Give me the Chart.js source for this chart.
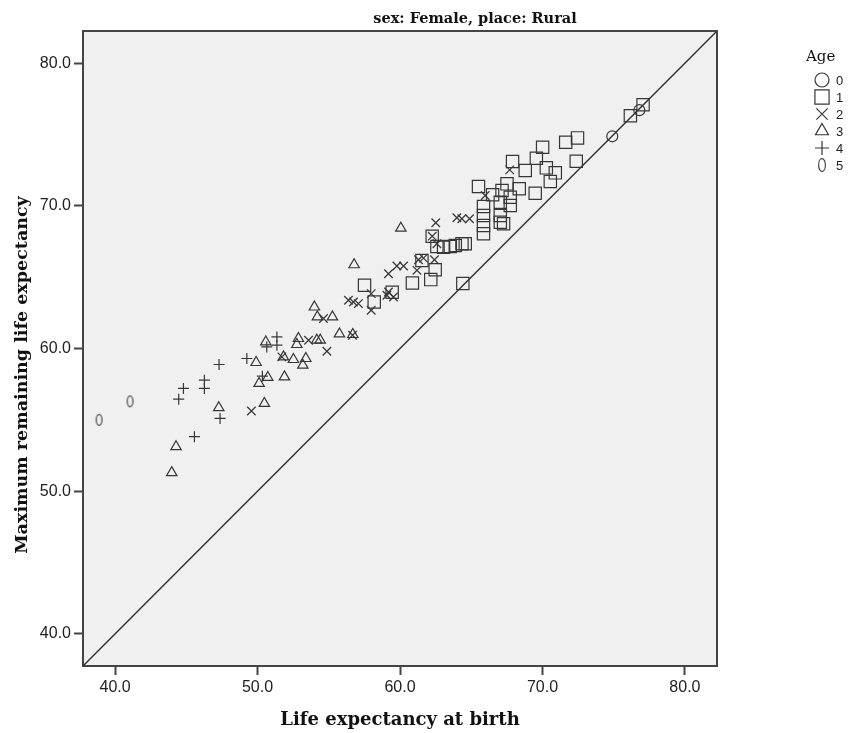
<!DOCTYPE html>
<html>
<head>
<meta charset="utf-8">
<title>sex: Female, place: Rural</title>
<script src="https://cdn.jsdelivr.net/npm/chart.js@4.4.1/dist/chart.umd.min.js"></script>
<style>
  html, body { margin: 0; padding: 0; background: #ffffff; }
  #wrap { width: 851px; height: 733px; }
</style>
</head>
<body>
<div id="wrap"><canvas id="chart" width="851" height="733"></canvas></div>
<script>
// Chart values
const chartTitle = "sex: Female, place: Rural";
const xTitle = "Life expectancy at birth";
const yTitle = "Maximum remaining life expectancy";
const legendTitle = "Age";
const ageLabels = ["0", "1", "2", "3", "4", "5"];
const tickValues = [40, 50, 60, 70, 80];
const axisMin = 37.75;
const axisMax = 82.25;
const refLine = [37.75, 82.25];

// Age 0
const age0Birth = [74.9, 76.8];
const age0Remaining = [74.87, 76.7];

// Age 1
const age1Birth = [77.06, 76.17, 72.46, 71.63, 72.37, 70.01, 69.57, 70.27, 70.9, 70.55,
  67.9, 68.79, 69.49, 68.37, 67.51, 67.16, 67.74, 67.74, 67.04, 66.5,
  65.51, 65.86, 65.86, 65.86, 65.86, 67.04, 67.04, 67.27, 64.58, 64.35,
  64.41, 63.53, 63.06, 62.59, 62.26, 61.54, 62.47, 62.16, 60.87, 59.45,
  58.19, 57.51, 63.88];
const age1Remaining = [77.08, 76.31, 74.76, 74.45, 73.12, 74.1, 73.33, 72.66, 72.31, 71.7,
  73.1, 72.47, 70.88, 71.19, 71.54, 71.07, 70.6, 70.02, 70.25, 70.77,
  71.35, 69.95, 69.32, 68.62, 68.04, 69.32, 68.85, 68.74, 67.34, 67.34,
  64.55, 67.15, 67.1, 67.15, 67.87, 66.17, 65.52, 64.83, 64.59, 63.94,
  63.26, 64.43, 67.22];

// Age 2
const age2Birth = [67.7, 65.98, 62.51, 63.99, 64.34, 64.88, 62.59, 62.26, 61.19, 61.3,
  61.65, 62.42, 60.25, 59.78, 59.19, 57.98, 57.98, 59.08, 59.19, 59.54,
  56.38, 56.73, 57.08, 56.67, 54.63, 54.87, 53.58, 51.71, 49.57];
const age2Remaining = [72.52, 70.72, 68.81, 69.16, 69.09, 69.09, 67.34, 67.87, 65.48, 66.22,
  66.33, 66.22, 65.78, 65.78, 65.24, 63.85, 62.68, 63.73, 63.96, 63.61,
  63.38, 63.26, 63.15, 60.93, 62.1, 59.81, 60.58, 59.41, 55.62];

// Age 3
const age3Birth = [60.06, 56.78, 53.99, 54.2, 55.26, 55.75, 56.69, 52.87, 52.76, 54.16,
  54.4, 50.58, 51.82, 52.52, 53.39, 53.18, 49.9, 50.72, 51.89, 50.11,
  50.48, 47.28, 44.28, 43.98];
const age3Remaining = [68.43, 65.87, 62.91, 62.21, 62.21, 61.02, 60.98, 60.7, 60.28, 60.58,
  60.58, 60.46, 59.41, 59.23, 59.3, 58.83, 59.02, 57.97, 58.01, 57.55,
  56.15, 55.85, 53.12, 51.3];

// Age 4
const age4Birth = [51.36, 51.36, 50.65, 49.25, 47.3, 50.34, 46.27, 46.27, 44.8, 44.47, 47.37, 45.57];
const age4Remaining = [60.81, 60.23, 60.11, 59.3, 58.88, 58.06, 57.78, 57.2, 57.2, 56.45, 55.1, 53.82];

// Age 5
const age5Birth = [38.88, 41.05];
const age5Remaining = [55.0, 56.3];

const MARK_COLOR = "#363636";
const AXIS_COLOR = "#444444";
const PLOT_BG = "#f0f0f0";
const SERIF = "'DejaVu Serif', serif";
const SANS = "'Liberation Sans', Arial, sans-serif";

/**
 * Oval "0" shaped marker used by SPSS for the sixth category
 */
function ovalMarker(w, h, lw) {
  const c = document.createElement("canvas");
  c.width = w + 2;
  c.height = h + 2;
  const g = c.getContext("2d");
  g.strokeStyle = "#444444";
  g.lineWidth = lw;
  g.beginPath();
  g.ellipse(c.width / 2, c.height / 2, w / 2 - lw / 2, h / 2 - lw / 2, 0, 0, Math.PI * 2);
  g.stroke();
  return c;
}

const plotOval = ovalMarker(7, 12, 1.2);
const legendOval = ovalMarker(8, 14, 1.2);

function zip(xs, ys) {
  return xs.map((x, i) => ({ x: x, y: ys[i] }));
}

// style, plot radius, legend radius per age
const markerStyles = [
  { style: "circle", radius: 5.5, legendRadius: 7 },
  { style: "rect", radius: 8.7, legendRadius: 10 },
  { style: "crossRot", radius: 6, legendRadius: 8 },
  { style: "triangle", radius: 6, legendRadius: 7.5 },
  { style: "cross", radius: 5.5, legendRadius: 7 },
  { style: plotOval, radius: 6, legendRadius: 7, legendStyle: legendOval },
];

const ageSeries = [
  zip(age0Birth, age0Remaining),
  zip(age1Birth, age1Remaining),
  zip(age2Birth, age2Remaining),
  zip(age3Birth, age3Remaining),
  zip(age4Birth, age4Remaining),
  zip(age5Birth, age5Remaining),
];

const datasets = ageSeries.map((points, i) => ({
  type: "scatter",
  label: ageLabels[i],
  data: points,
  pointStyle: markerStyles[i].style,
  pointRadius: markerStyles[i].radius,
  pointBorderColor: MARK_COLOR,
  pointBackgroundColor: "rgba(0,0,0,0)",
  pointBorderWidth: 1.2,
  order: 1,
}));

datasets.push({
  type: "line",
  label: "reference",
  data: refLine.map((v) => ({ x: v, y: v })),
  borderColor: "#2e2e2e",
  borderWidth: 1.4,
  pointRadius: 0,
  fill: false,
  order: 2,
});

// Background + frame + texts + legend
const decorPlugin = {
  id: "decor",
  beforeDraw(chart) {
    const { ctx, chartArea: a } = chart;
    ctx.save();
    ctx.fillStyle = "#ffffff";
    ctx.fillRect(0, 0, chart.width, chart.height);
    ctx.fillStyle = PLOT_BG;
    ctx.fillRect(a.left, a.top, a.right - a.left, a.bottom - a.top);
    ctx.restore();
  },
  afterDraw(chart) {
    const { ctx, chartArea: a } = chart;
    ctx.save();

    // top and right frame lines
    ctx.strokeStyle = AXIS_COLOR;
    ctx.lineWidth = 2;
    ctx.beginPath();
    ctx.moveTo(a.left, a.top);
    ctx.lineTo(a.right, a.top);
    ctx.lineTo(a.right, a.bottom);
    ctx.stroke();

    // titles
    ctx.fillStyle = "#111111";
    ctx.textAlign = "center";
    ctx.textBaseline = "alphabetic";
    ctx.font = "bold 14.5px " + SERIF;
    ctx.fillText(chartTitle, 475, 23);

    ctx.font = "bold 18px " + SERIF;
    ctx.fillText(xTitle, (a.left + a.right) / 2, 725);

    ctx.font = "bold 17.5px " + SERIF;
    ctx.save();
    ctx.translate(27, 375);
    ctx.rotate(-Math.PI / 2);
    ctx.fillText(yTitle, 0, 0);
    ctx.restore();

    // legend
    ctx.textAlign = "left";
    ctx.font = "15px " + SERIF;
    ctx.fillText(legendTitle, 806, 61);

    ctx.font = "13px " + SANS;
    ctx.textBaseline = "middle";
    ageLabels.forEach((label, i) => {
      const y = 80 + i * 17;
      const m = markerStyles[i];
      ctx.strokeStyle = MARK_COLOR;
      ctx.fillStyle = "rgba(0,0,0,0)";
      ctx.lineWidth = 1.2;
      Chart.helpers.drawPoint(
        ctx,
        { pointStyle: m.legendStyle || m.style, radius: m.legendRadius, borderWidth: 1.2, rotation: 0 },
        822,
        y
      );
      ctx.fillStyle = "#222222";
      ctx.fillText(label, 836, y + 1);
    });

    ctx.restore();
  },
};

function axisConfig(fitFn) {
  return {
    type: "linear",
    min: axisMin,
    max: axisMax,
    afterBuildTicks: (scale) => {
      scale.ticks = tickValues.map((v) => ({ value: v }));
    },
    afterFit: fitFn,
    ticks: {
      color: "#222222",
      padding: 3,
      font: { family: SANS, size: 16 },
      callback: (v) => Number(v).toFixed(1),
    },
    grid: {
      display: true,
      drawOnChartArea: false,
      drawTicks: true,
      tickLength: 9,
      tickWidth: 2,
      tickColor: AXIS_COLOR,
    },
    border: { display: true, color: AXIS_COLOR, width: 2 },
    title: { display: false },
  };
}

new Chart(document.getElementById("chart"), {
  type: "scatter",
  data: { datasets: datasets },
  options: {
    responsive: false,
    animation: false,
    events: [],
    layout: { padding: { left: 0, top: 31, right: 134, bottom: 0 } },
    plugins: {
      legend: { display: false },
      tooltip: { enabled: false },
      title: { display: false },
    },
    scales: {
      x: axisConfig((scale) => { scale.height = 67; }),
      y: axisConfig((scale) => { scale.width = 83; }),
    },
  },
  plugins: [decorPlugin],
});
</script>
</body>
</html>
